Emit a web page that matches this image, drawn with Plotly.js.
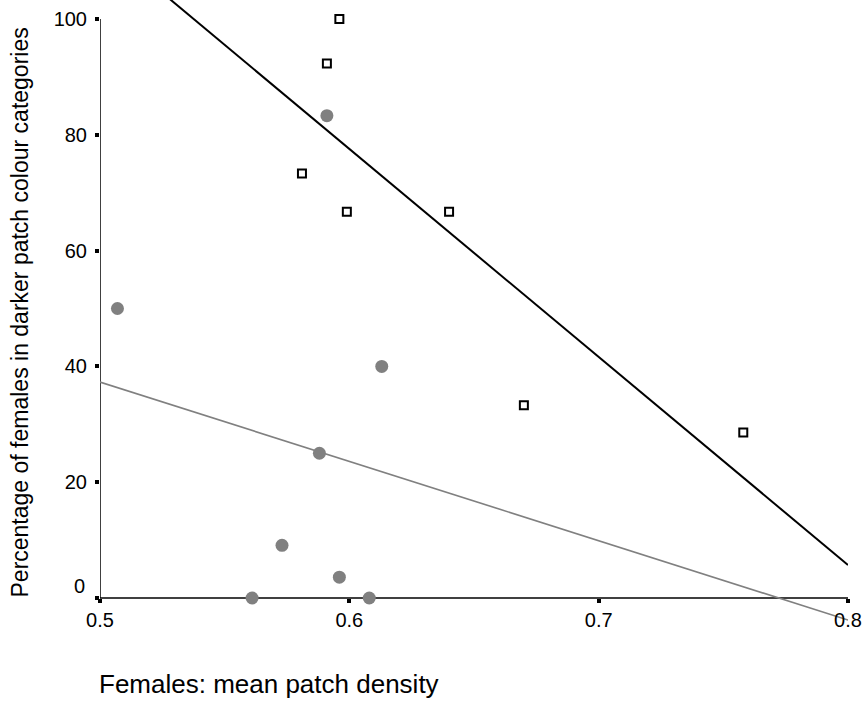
<!DOCTYPE html>
<html>
<head>
<meta charset="utf-8">
<script src="https://cdn.plot.ly/plotly-3.0.1.min.js"></script>
<style>
  html, body { margin: 0; padding: 0; background: #ffffff; }
  #chart { width: 866px; height: 704px; }
</style>
</head>
<body>
<div id="chart"></div>
<script>
// Grey circles: one group of females
const circleX = [0.507, 0.591, 0.613, 0.588, 0.573, 0.596, 0.561, 0.608];
const circleY = [50, 83.3, 40, 25, 9.1, 3.6, 0, 0];

// Open squares: the other group
const squareX = [0.596, 0.591, 0.581, 0.599, 0.640, 0.670, 0.758];
const squareY = [100, 92.3, 73.3, 66.7, 66.7, 33.3, 28.6];

// Fitted regression lines, evaluated at the ends of the x range
const fitX = [0.5, 0.8];
const squareFitY = [113.5, 5.7];
const circleFitY = [37.3, -3.8];

// Axis ticks
const xTicks = [0.5, 0.6, 0.7, 0.8];
const xTickText = ['0.5', '0.6', '0.7', '0.8'];
const yTicks = [0, 20, 40, 60, 80, 100];
const yTickText = ['', '20', '40', '60', '80', '100'];

const FONT = 'Liberation Sans, Arial, sans-serif';
const GREY = '#808080';

const yRange = [-4.66, 103.28];

const traces = [
  {
    x: fitX, y: circleFitY, type: 'scatter', mode: 'lines',
    line: { color: GREY, width: 1.6 }, hoverinfo: 'skip'
  },
  {
    x: fitX, y: squareFitY, type: 'scatter', mode: 'lines',
    line: { color: '#000000', width: 2 }, hoverinfo: 'skip'
  },
  {
    x: circleX, y: circleY, type: 'scatter', mode: 'markers',
    marker: { symbol: 'circle', size: 13, color: GREY, line: { width: 0 } },
    cliponaxis: false
  },
  {
    x: squareX, y: squareY, type: 'scatter', mode: 'markers',
    marker: { symbol: 'square-open', size: 8, color: '#000000', line: { width: 2, color: '#000000' } },
    cliponaxis: false
  }
];

const layout = {
  width: 866,
  height: 704,
  margin: { l: 100, r: 18, t: 0, b: 79, pad: 0 },
  paper_bgcolor: '#ffffff',
  plot_bgcolor: '#ffffff',
  showlegend: false,
  font: { family: FONT, color: '#000000' },
  xaxis: {
    range: [0.5, 0.8],
    tickvals: xTicks,
    ticktext: xTickText,
    anchor: 'free',
    position: (0 - yRange[0]) / (yRange[1] - yRange[0]),
    showgrid: false, zeroline: false, showline: false,
    ticks: 'outside', ticklen: 4, tickwidth: 4, tickcolor: '#000000',
    tickfont: { family: FONT, size: 20, color: '#000000' }
  },
  yaxis: {
    range: yRange,
    tickvals: yTicks,
    ticktext: yTickText,
    showgrid: false, zeroline: false, showline: false,
    ticks: 'outside', ticklen: 4, tickwidth: 4, tickcolor: '#000000',
    ticklabelstandoff: 4,
    tickfont: { family: FONT, size: 20, color: '#000000' }
  },
  shapes: [
    { type: 'line', xref: 'x', yref: 'y', x0: 0.5, y0: 0, x1: 0.8, y1: 0,
      line: { color: '#000000', width: 1.5 }, layer: 'below' },
    { type: 'line', xref: 'x', yref: 'y', x0: 0.5, y0: 0, x1: 0.5, y1: 100,
      line: { color: '#000000', width: 1.5 }, layer: 'below' }
  ],
  annotations: [
    { text: '0', xref: 'paper', yref: 'y', x: 0, y: 0, xanchor: 'right', yanchor: 'middle',
      xshift: -13, yshift: 12, showarrow: false,
      font: { family: FONT, size: 20, color: '#000000' } },
    { text: 'Percentage of females in darker patch colour categories',
      xref: 'paper', yref: 'paper', x: (19 - 100) / 748, y: 0.5, textangle: -90,
      xanchor: 'center', yanchor: 'middle', showarrow: false,
      font: { family: FONT, size: 23, color: '#000000' } },
    { text: 'Females: mean patch density',
      xref: 'paper', yref: 'paper', x: 0, y: (625 - 684) / 625,
      xanchor: 'left', yanchor: 'middle', xshift: -3, showarrow: false,
      font: { family: FONT, size: 26, color: '#000000' } }
  ]
};

Plotly.newPlot('chart', traces, layout, { displayModeBar: false, staticPlot: true });
</script>
</body>
</html>
